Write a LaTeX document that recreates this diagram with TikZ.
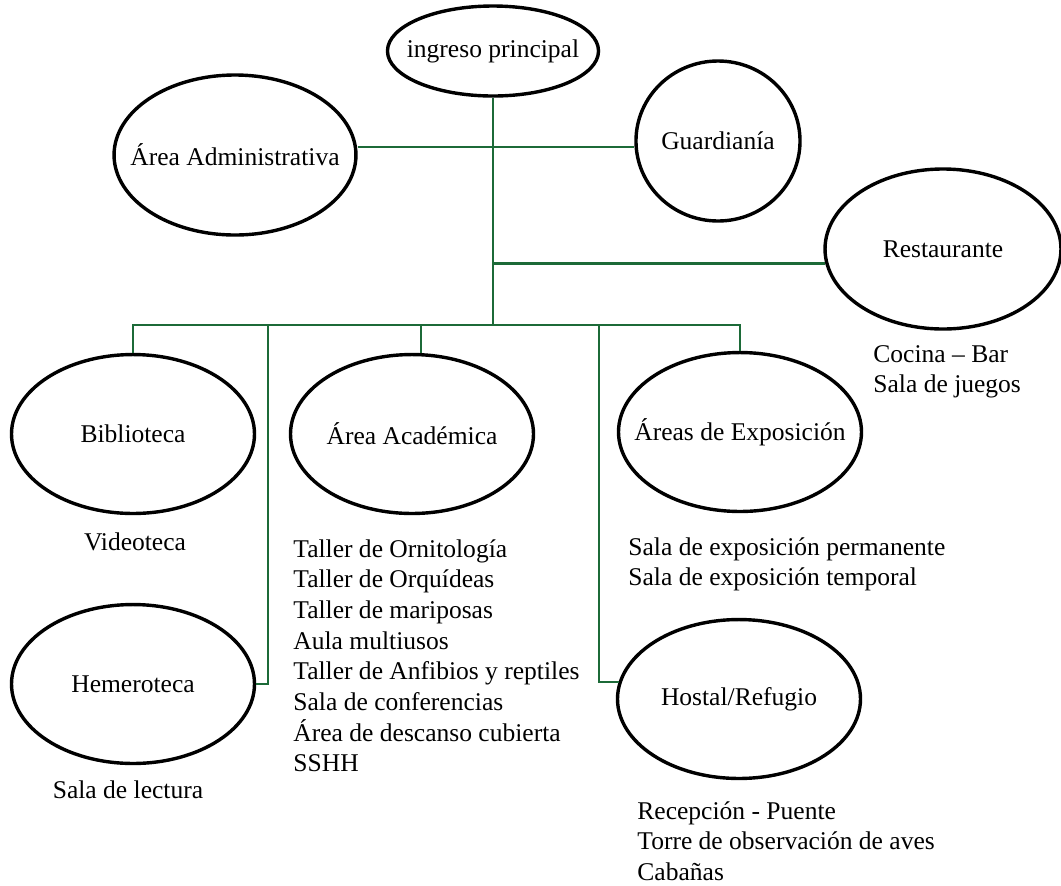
\documentclass[tikz,border=0pt]{standalone}
\usepackage{fontspec}
\setmainfont{Liberation Serif}
\usetikzlibrary{shapes.geometric}
\definecolor{linegreen}{RGB}{28,106,56}

\begin{document}
\begin{tikzpicture}[x=0.47pt, y=-0.47pt,
        area/.style={draw, ellipse, line width=1.6pt, inner ysep=0pt, inner xsep=-12pt,
            minimum width=114.2pt, minimum height=74.7pt, font=\fontsize{12}{14.4}\selectfont},
        note/.style={inner sep=0pt, align=left, font=\fontsize{12}{14.4}\selectfont},
        link/.style={draw=linegreen, line width=1.1pt}]
    \useasboundingbox (0,0) rectangle (1061,885);

    % areas
    \node[area, minimum width=99.2pt, minimum height=42.3pt] (ing) at (493,51) {ingreso principal};
    \node[area, minimum width=113.7pt, minimum height=75.2pt] (adm) at (235,155) {Área Administrativa};
    \node[area, minimum width=77.1pt, minimum height=75.2pt] (gua) at (718,141) {Guardianía};
    \node[area, minimum width=110.9pt, minimum height=75.2pt] (res) at (943,249) {Restaurante};
    \node[area] (bib) at (133,434) {Biblioteca};
    \node[area] (aca) at (412,434) {Área Académica};
    \node[area] (exp) at (740,432) {Áreas de Exposición};
    \node[area] (hem) at (133,684) {Hemeroteca};
    \node[area] (hos) at (739,699) {Hostal/Refugio};

    % spaces of each area
    \node[note] (vid) at (135,542) {Videoteca};
    \node[note] (lec) at (128,790) {Sala de lectura};
    \node[note, anchor=north west] (acalist) at (293,539) {Taller de Ornitología\\Taller de Orquídeas\\Taller de mariposas\\Aula multiusos\\Taller de Anfibios y reptiles\\Sala de conferencias\\Área de descanso cubierta\\SSHH};
    \node[note, anchor=north west] (explist) at (628,537) {Sala de exposición permanente\\Sala de exposición temporal};
    \node[note, anchor=north west] (reslist) at (873,345) {Cocina – Bar\\Sala de juegos};
    \node[note, anchor=north west] (hoslist) at (637,801) {Recepción - Puente\\Torre de observación de aves\\Cabañas};

    % connections
    \coordinate (bus) at (493,325);
    \coordinate (acadrop) at (421,325);
    \coordinate (hemdrop) at (268,325);
    \coordinate (hosdrop) at (599,325);

    \draw[link] (ing.south) -- (bus);
    \draw[link] (adm.east |- gua.184) -- (gua.184);
    \draw[link] (ing.south |- res.187) -- (res.187);
    \draw[link] (bib.north) -- (bib.north |- bus) -- (exp.north |- bus) -- (exp.north);
    \draw[link] (acadrop) -- (acadrop |- aca.north);
    \draw[link] (hemdrop) |- (hem.east);
    \draw[link] (hosdrop) |- (hos.172);
\end{tikzpicture}
\end{document}
